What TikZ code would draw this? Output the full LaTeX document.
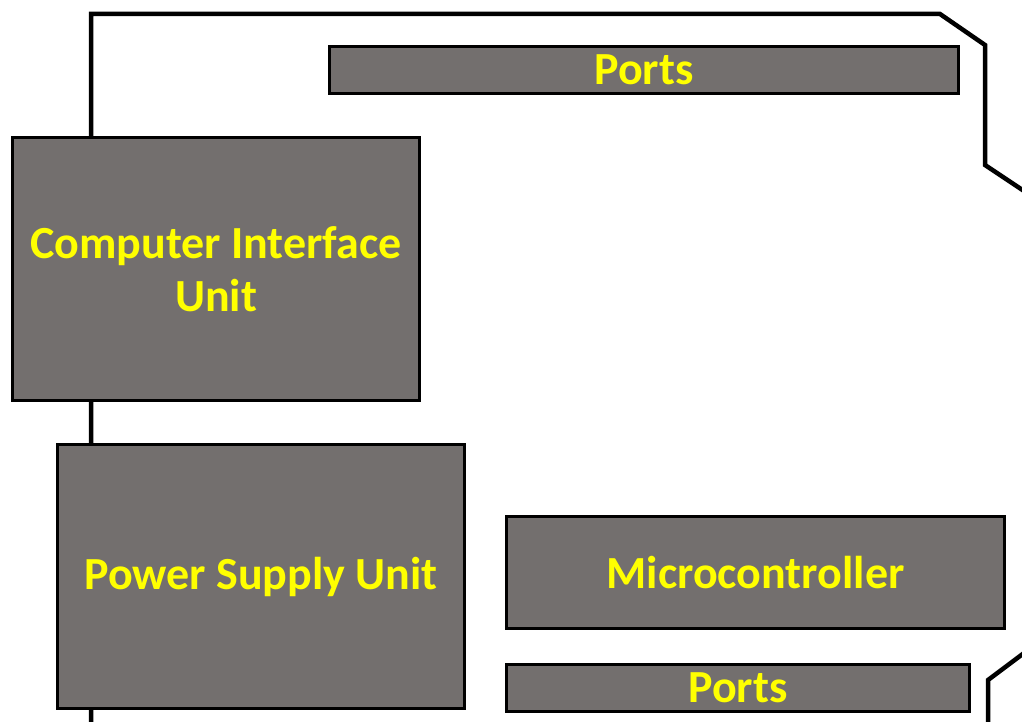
\documentclass[tikz,border=0pt]{standalone}
\usepackage{fontspec}
\setmainfont{Carlito}
\definecolor{boxgray}{HTML}{736F6E}
\definecolor{labelyellow}{HTML}{FFFF00}
\tikzset{
  unit/.style={draw=black, line width=3pt, fill=boxgray, text=labelyellow,
    font=\fontsize{46}{53}\selectfont\bfseries, align=center, inner sep=0pt, anchor=north west},
  board/.style={draw=black, line width=4.5pt, line join=miter}
}
\begin{document}
\begin{tikzpicture}[x=1pt,y=-1pt]
\useasboundingbox (0,0) rectangle (1022,722);
% board outline
\draw[board] (91,724) -- (91,14) -- (940,14) -- (985,45) -- (985,165) -- (1024,191);
\draw[board] (1024,653) -- (988,680) -- (988,724);
% units
\node[unit, minimum width=629pt, minimum height=47pt] (portsTop) at (328,45) {Ports};
\node[unit, minimum width=407pt, minimum height=263pt] (ciu) at (11,136) {Computer Interface\\Unit};
\node[unit, minimum width=407pt, minimum height=264pt] (psu) at (56,443) {Power Supply Unit};
\node[unit, minimum width=498pt, minimum height=112pt] (mcu) at (505,515) {Microcontroller};
\node[unit, minimum width=463pt, minimum height=47pt] (portsBot) at (505,663) {Ports};
\end{tikzpicture}
\end{document}
